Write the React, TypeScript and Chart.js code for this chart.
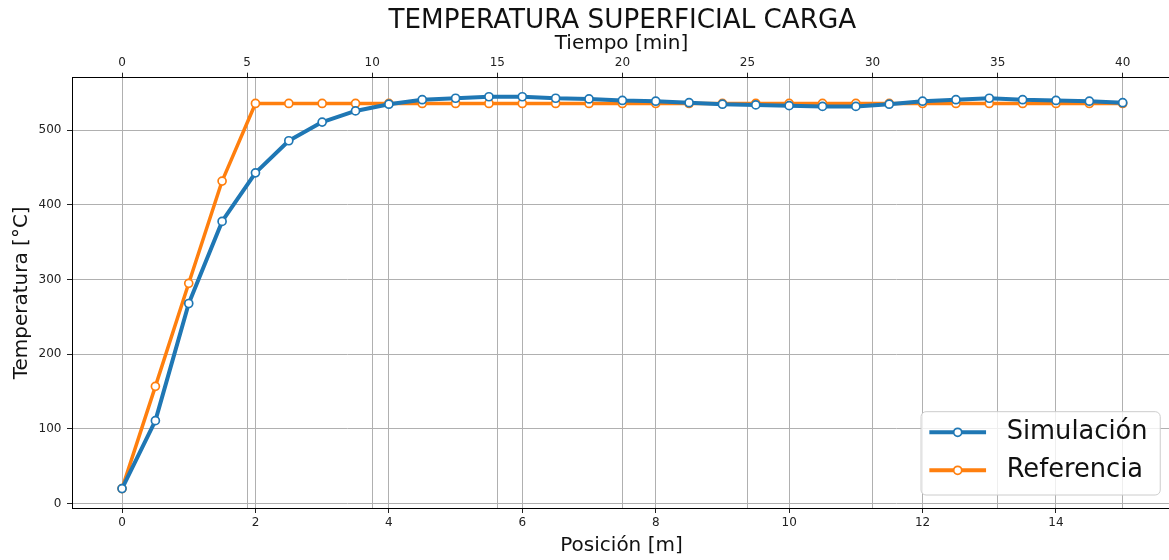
import React, { useEffect, useRef } from "react";
import { Chart, registerables } from "chart.js";

Chart.register(...registerables);

const CHART_TITLE = "TEMPERATURA SUPERFICIAL CARGA";
const X_TITLE = "Posición [m]";
const X2_TITLE = "Tiempo [min]";
const Y_TITLE = "Temperatura [°C]";

const SERIES_NAMES = ["Simulación", "Referencia"];
const SERIES_COLORS = ["#1f77b4", "#ff7f0e"];

const positions = [
  0, 0.5, 1, 1.5, 2, 2.5, 3, 3.5, 4, 4.5, 5, 5.5, 6, 6.5, 7, 7.5, 8, 8.5, 9, 9.5,
  10, 10.5, 11, 11.5, 12, 12.5, 13, 13.5, 14, 14.5, 15,
];

const simulacion = [
  20, 111, 268, 378, 443, 486, 511, 526, 535, 541, 543, 545, 545, 543, 542, 540,
  539, 537, 535, 534, 533, 532, 532, 535, 539, 541, 543, 541, 540, 539, 537,
];

const referencia = [
  20, 157, 295, 432, 536, 536, 536, 536, 536, 536, 536, 536, 536, 536, 536, 536,
  536, 536, 536, 536, 536, 536, 536, 536, 536, 536, 536, 536, 536, 536, 536,
];

const positionTicks = [0, 2, 4, 6, 8, 10, 12, 14];
const timeTicks = [0, 5, 10, 15, 20, 25, 30, 35, 40];
const tempTicks = [0, 100, 200, 300, 400, 500];

const FONT = '"DejaVu Sans", "Liberation Sans", sans-serif';

const titleLegendPlugin = {
  id: "titleLegend",
  afterDraw(chart: any) {
    const ctx = chart.ctx;
    const area = chart.chartArea;
    ctx.save();
    // main title, centred over the full axes (-0.75 -> 15.75 m)
    const xs = chart.scales.x;
    const axesRight = xs.getPixelForValue(15.75);
    const axesCenter = (area.left + axesRight) / 2;
    ctx.font = `26.2px ${FONT}`;
    ctx.fillStyle = "#111";
    ctx.textAlign = "center";
    ctx.textBaseline = "alphabetic";
    ctx.fillText(CHART_TITLE, axesCenter, 28.3);

    // legend (lower right, matplotlib-like)
    const fs = 25.7;
    ctx.font = `${fs}px ${FONT}`;
    const ds = chart.data.datasets;
    let maxW = 0;
    ds.forEach((d: any) => {
      maxW = Math.max(maxW, ctx.measureText(d.label).width);
    });
    const padL = 8.3, handle = 56.7, gap = 20.6, padR = 12.7;
    const boxW = padL + handle + gap + maxW + padR;
    const boxH = 83.3;
    const right = axesRight - 12.5;
    const bottom = area.bottom - 13;
    const left = right - boxW;
    const top = bottom - boxH;
    const r = 5;
    ctx.beginPath();
    ctx.moveTo(left + r, top);
    ctx.lineTo(left + boxW - r, top);
    ctx.arcTo(left + boxW, top, left + boxW, top + r, r);
    ctx.lineTo(left + boxW, top + boxH - r);
    ctx.arcTo(left + boxW, top + boxH, left + boxW - r, top + boxH, r);
    ctx.lineTo(left + r, top + boxH);
    ctx.arcTo(left, top + boxH, left, top + boxH - r, r);
    ctx.lineTo(left, top + r);
    ctx.arcTo(left, top, left + r, top, r);
    ctx.closePath();
    ctx.fillStyle = "rgba(255,255,255,0.8)";
    ctx.fill();
    ctx.strokeStyle = "#cccccc";
    ctx.lineWidth = 1;
    ctx.stroke();

    const rowCenters = [top + 20.6, top + 58.6];
    ds.forEach((d: any, i: number) => {
      const cy = rowCenters[i];
      const x0 = left + padL;
      const x1 = x0 + handle;
      ctx.beginPath();
      ctx.moveTo(x0, cy);
      ctx.lineTo(x1, cy);
      ctx.strokeStyle = d.borderColor;
      ctx.lineWidth = 4;
      ctx.lineCap = "butt";
      ctx.stroke();
      ctx.beginPath();
      ctx.arc((x0 + x1) / 2, cy, 4, 0, Math.PI * 2);
      ctx.fillStyle = "#fff";
      ctx.fill();
      ctx.lineWidth = 1.7;
      ctx.strokeStyle = d.borderColor;
      ctx.stroke();
      ctx.fillStyle = "#111";
      ctx.textAlign = "left";
      ctx.textBaseline = "middle";
      ctx.fillText(d.label, x1 + gap, cy);
    });
    ctx.restore();
  },
};

export default function App() {
  const canvasRef = useRef<HTMLCanvasElement | null>(null);

  useEffect(() => {
    const canvas = canvasRef.current;
    if (!canvas) return;
    const makeDs = (label: string, values: number[], color: string, bw: number) => ({
      label,
      data: positions.map((x, i) => ({ x, y: values[i] })),
      borderColor: color,
      backgroundColor: color,
      borderWidth: bw,
      borderJoinStyle: "round" as const,
      tension: 0,
      pointRadius: 4,
      pointHoverRadius: 4,
      pointBorderWidth: 1.7,
      pointBackgroundColor: "#ffffff",
      pointBorderColor: color,
      fill: false,
    });

    const tickFont = { family: FONT, size: 12 };
    const titleFont = { family: FONT, size: 20 };
    const gridCommon = {
      color: "#b0b0b0",
      lineWidth: 1,
      tickLength: 5,
      tickColor: "#222",
      drawTicks: true,
    };

    const chart = new Chart(canvas, {
      type: "line",
      data: {
        datasets: [
          makeDs(SERIES_NAMES[0], simulacion, SERIES_COLORS[0], 4),
          makeDs(SERIES_NAMES[1], referencia, SERIES_COLORS[1], 3.5),
        ],
      },
      options: {
        animation: false,
        responsive: false,
        maintainAspectRatio: false,
        devicePixelRatio: 1,
        events: [],
        layout: { autoPadding: false, padding: { top: 31.4, right: 0, left: 0, bottom: 0 } },
        plugins: {
          legend: { display: false },
          title: { display: false },
          tooltip: { enabled: false },
        },
        scales: {
          x: {
            type: "linear",
            position: "bottom",
            min: -0.75,
            max: 15.724,
            afterBuildTicks: (axis: any) => {
              axis.ticks = positionTicks.map((v) => ({ value: v }));
            },
            afterFit: (s: any) => {
              s.height = 52;
              s.paddingLeft = 0;
              s.paddingRight = 0;
            },
            ticks: { font: tickFont, color: "#222", padding: 3, maxRotation: 0, autoSkip: false },
            grid: gridCommon,
            border: { display: true, color: "#000", width: 1 },
            title: { display: true, text: X_TITLE, font: titleFont, color: "#111", padding: { top: 0, bottom: 2 } },
          },
          x2: {
            type: "linear",
            position: "top",
            min: -2,
            max: 41.93,
            afterBuildTicks: (axis: any) => {
              axis.ticks = timeTicks.map((v) => ({ value: v }));
            },
            afterFit: (s: any) => {
              s.height = 46.3;
              s.paddingLeft = 0;
              s.paddingRight = 0;
            },
            ticks: { font: tickFont, color: "#222", padding: 3, maxRotation: 0, autoSkip: false },
            grid: gridCommon,
            border: { display: true, color: "#000", width: 1 },
            title: { display: true, text: X2_TITLE, font: titleFont, color: "#111", padding: { top: 0.7, bottom: 0 } },
          },
          y: {
            type: "linear",
            position: "left",
            min: -6,
            max: 570.5,
            afterBuildTicks: (axis: any) => {
              axis.ticks = tempTicks.map((v) => ({ value: v }));
            },
            afterFit: (s: any) => {
              s.width = 72;
              s.paddingTop = 0;
              s.paddingBottom = 0;
            },
            ticks: { font: tickFont, color: "#222", padding: 5.5 },
            grid: gridCommon,
            border: { display: true, color: "#000", width: 1 },
            title: { display: true, text: Y_TITLE, font: titleFont, color: "#111", padding: { top: 10, bottom: 0 } },
          },
        },
      } as any,
      plugins: [titleLegendPlugin],
    });

    return () => {
      chart.destroy();
    };
  }, []);

  return (
    <div
      style={{
        position: "fixed",
        left: 0,
        top: 0,
        width: 1169,
        height: 560,
        overflow: "hidden",
        background: "#ffffff",
      }}
    >
      <canvas ref={canvasRef} width={1171} height={560} style={{ display: "block" }} />
    </div>
  );
}
